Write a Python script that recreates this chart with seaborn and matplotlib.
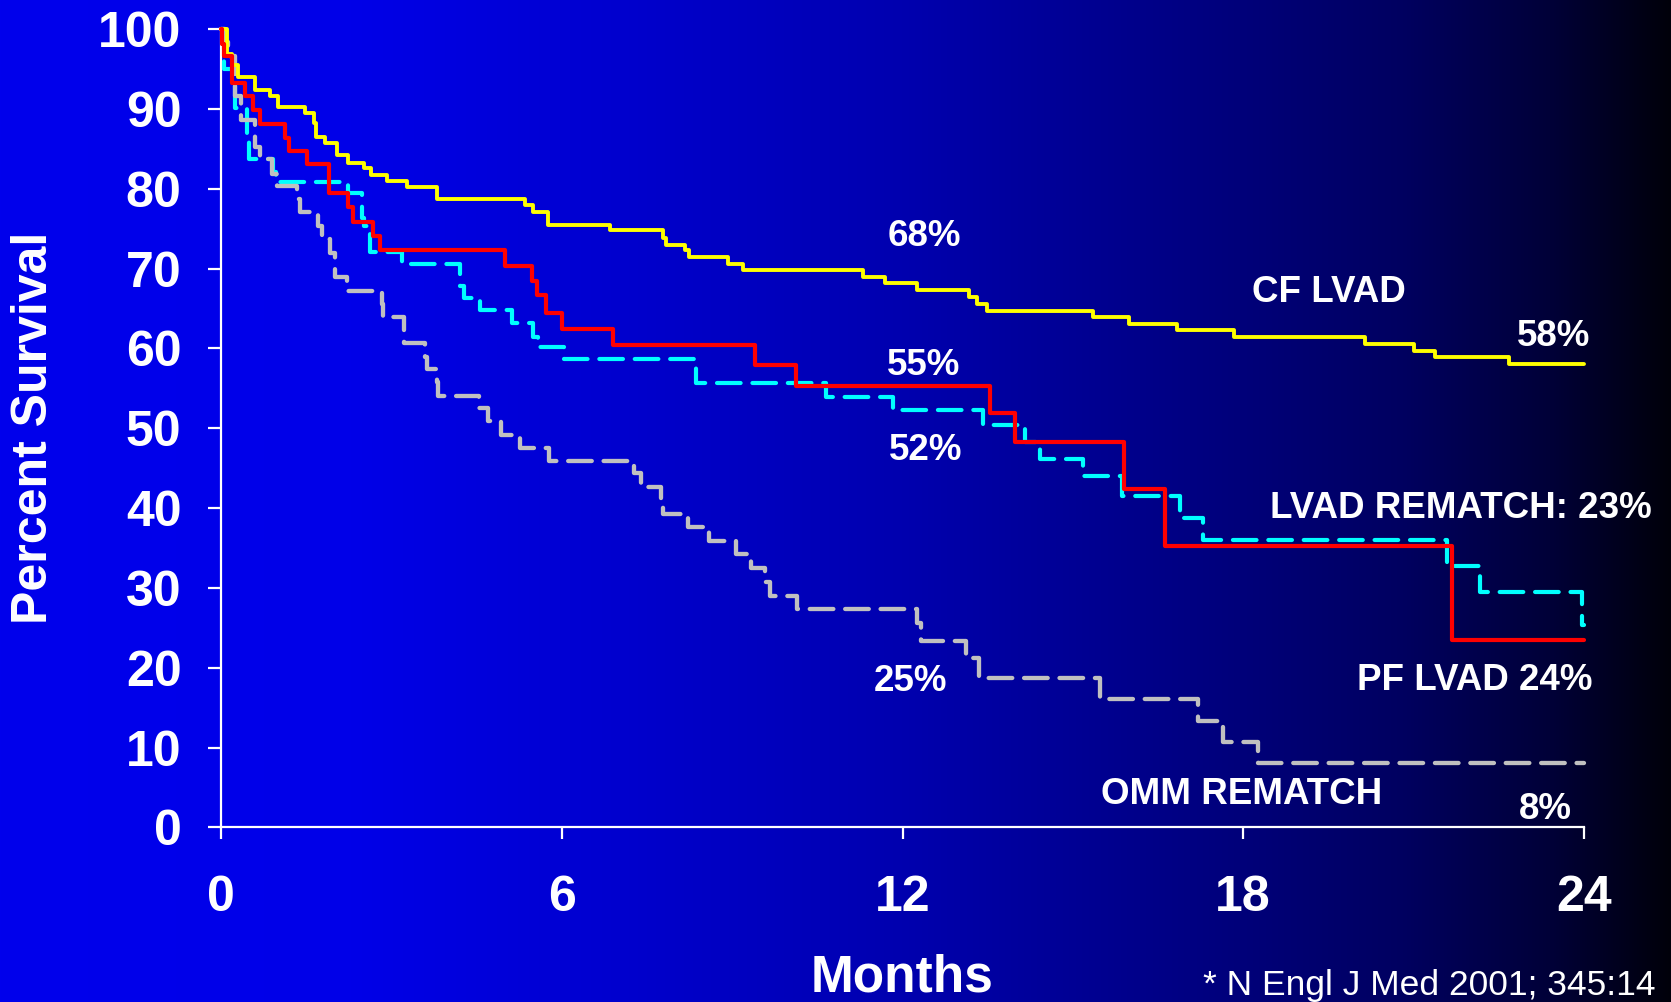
import numpy as np
import pandas as pd
import matplotlib
matplotlib.use("Agg")
import matplotlib.pyplot as plt
import seaborn as sns

# ---------------- data ----------------
cf_t = [0, 0.10, 0.19, 0.30, 0.60, 0.86, 1.01, 1.48, 1.63, 1.68, 1.83, 2.04, 2.24, 2.51, 2.65,
        2.92, 3.27, 3.80, 5.35, 5.50, 5.76, 6.85, 7.78, 7.84, 8.17, 8.24, 8.92, 9.20, 11.31, 11.70,
        12.26, 13.17, 13.31, 13.49, 15.36, 15.99, 16.84, 17.83, 20.14, 21.01, 21.38, 22.68, 24.0]
cf_s = [100, 96.9, 95.5, 94.0, 92.4, 91.6, 90.3, 89.5, 88.2, 86.5, 85.7, 84.3, 83.3, 82.6, 81.8,
        81.0, 80.3, 78.7, 78.0, 77.1, 75.5, 74.8, 73.9, 73.0, 72.3, 71.5, 70.6, 69.8, 69.0, 68.2,
        67.3, 66.5, 65.6, 64.7, 63.9, 63.1, 62.3, 61.5, 60.6, 59.7, 58.9, 58.1, 58.1]

pf_t = [0, 0.02, 0.05, 0.19, 0.42, 0.56, 0.69, 1.13, 1.19, 1.52, 1.91, 2.24, 2.33, 2.68, 2.80,
        5.00, 5.47, 5.56, 5.72, 6.00, 6.91, 9.40, 10.13, 13.54, 13.98, 15.90, 16.63, 21.67, 24.0]
pf_s = [100, 98.2, 96.6, 93.3, 91.6, 89.9, 88.1, 86.4, 84.8, 83.1, 79.5, 77.7, 75.9, 74.1, 72.3,
        70.3, 68.4, 66.7, 64.4, 62.4, 60.4, 57.9, 55.3, 51.9, 48.3, 42.4, 35.3, 23.5, 23.5]

lvad_t = [0, 0.05, 0.25, 0.45, 0.50, 0.92, 0.97, 2.24, 2.48, 2.51, 2.62, 3.18, 4.21, 4.27, 4.56,
          5.12, 5.50, 5.59, 6.04, 8.37, 10.65, 11.83, 13.41, 14.15, 14.42, 15.18, 15.87, 16.88,
          17.29, 21.58, 22.17, 23.97, 24.0]
lvad_s = [100, 95.0, 90.1, 86.5, 83.8, 82.1, 80.9, 79.5, 76.3, 75.3, 72.1, 70.6, 67.8, 66.3, 64.8,
          63.2, 61.5, 60.2, 58.7, 55.7, 53.9, 52.3, 50.4, 48.3, 46.2, 44.0, 41.5, 38.8,
          36.0, 32.7, 29.5, 25.3, 25.3]

omm_t = [0, 0.07, 0.13, 0.25, 0.36, 0.60, 0.69, 0.89, 0.98, 1.33, 1.39, 1.71, 1.77, 1.92, 2.01,
         2.21, 2.83, 2.86, 3.22, 3.59, 3.63, 3.80, 3.82, 4.54, 4.70, 4.93, 5.26, 5.78, 7.28, 7.39,
         7.75, 7.78, 8.22, 8.59, 9.07, 9.34, 9.58, 9.66, 10.15, 12.26, 12.32, 13.11, 13.35, 15.47,
         17.20, 17.64, 18.26, 24.0]
omm_s = [100, 98.4, 96.7, 91.6, 88.6, 85.3, 83.8, 81.9, 80.4, 78.7, 77.1, 75.4, 73.7, 72.0, 69.0,
         67.2, 65.6, 64.0, 60.7, 58.9, 57.4, 55.8, 54.1, 52.6, 50.9, 49.1, 47.5, 45.9, 44.4, 42.6,
         41.0, 39.3, 37.6, 35.9, 34.3, 32.5, 30.8, 29.0, 27.4, 25.6, 23.4, 21.2, 18.7, 16.1,
         13.3, 10.7, 8.0, 8.0]

x_ticks = [0, 6, 12, 18, 24]
y_ticks = [0, 10, 20, 30, 40, 50, 60, 70, 80, 90, 100]

# ---------------- styling ----------------
sns.set_style("ticks")
plt.rcParams["font.family"] = ["Liberation Sans", "DejaVu Sans"]

W, H = 1671, 1002
fig = plt.figure(figsize=(W / 100, H / 100), dpi=100)

# gradient background (bright blue -> black, left to right)
xs = np.linspace(0, 1, W)
blue = np.interp(xs, [0.0, 0.21, 0.36, 0.54, 0.69, 0.84, 0.93, 1.0],
                 [236, 232, 208, 175, 136, 96, 55, 10]) / 255.0
grad = np.zeros((1, W, 3))
grad[0, :, 2] = blue
bg = fig.add_axes([0, 0, 1, 1], zorder=-10)
bg.imshow(grad, aspect="auto", extent=[0, 1, 0, 1])
bg.axis("off")

left, right = 221 / W, 1584 / W
bottom, top = (H - 827.3) / H, (H - 29.3) / H
ax = fig.add_axes([left, bottom, right - left, top - bottom])
ax.patch.set_alpha(0)

def draw(t, s, color, lw, dashed, z):
    df = pd.DataFrame({"Months": t, "Survival": s})
    sns.lineplot(data=df, x="Months", y="Survival", ax=ax, color=color, linewidth=lw,
                 drawstyle="steps-post", estimator=None, sort=False, zorder=z)
    ln = ax.lines[-1]
    ln.set_clip_on(False)
    if dashed:
        ln.set_dashes((17 / lw, 8.5 / lw))
        ln.set_dash_capstyle("round")
    return ln

draw(lvad_t, lvad_s, "#00FFFF", 3.0, True, 3)
draw(omm_t, omm_s, "#C0C0C0", 3.1, True, 4)
draw(cf_t, cf_s, "#FFFF00", 2.8, False, 5)
draw(pf_t, pf_s, "#FF0000", 3.0, False, 6)

ax.set_xlim(0, 24)
ax.set_ylim(0, 100)
ax.set_xticks(x_ticks)
ax.set_yticks(y_ticks)
ax.set_xticklabels([str(v) for v in x_ticks])
ax.set_yticklabels([str(v) for v in y_ticks])
for sp in ["top", "right"]:
    ax.spines[sp].set_visible(False)
for sp in ["left", "bottom"]:
    ax.spines[sp].set_color("white")
    ax.spines[sp].set_linewidth(1.6)
ax.tick_params(axis="y", direction="out", length=9.5, width=1.6, color="white",
               labelcolor="white", labelsize=36, pad=19)
ax.tick_params(axis="x", direction="out", length=8.5, width=1.6, color="white",
               labelcolor="white", labelsize=36, pad=26)
for lab in ax.get_xticklabels() + ax.get_yticklabels():
    lab.set_fontweight("bold")
ax.set_xlabel("")
ax.set_ylabel("")

# axis titles
fig.text(34 / W, 1 - 428 / H, "Percent Survival", rotation=90, color="white",
         fontsize=36, fontweight="bold", ha="center", va="center")
fig.text(902 / W, (H - 991) / H, "Months", color="white", fontsize=37,
         fontweight="bold", ha="center", va="baseline")
fig.text(1203 / W, (H - 995) / H, "* N Engl J Med 2001; 345:14", color="white",
         fontsize=25.5, ha="left", va="baseline")

# annotations
notes = [
    ("68%", 12.38, 72.9), ("CF LVAD", 19.51, 65.8), ("58%", 23.46, 60.3),
    ("55%", 12.38, 56.7), ("52%", 12.40, 46.0), ("LVAD REMATCH: 23%", 21.83, 38.8),
    ("PF LVAD 24%", 22.08, 17.2), ("25%", 12.14, 17.1), ("OMM REMATCH", 17.98, 2.9),
    ("8%", 23.32, 1.0),
]
for txt, x, y in notes:
    ax.text(x, y, txt, color="white", fontsize=26.5, fontweight="bold",
            ha="center", va="baseline", clip_on=False, zorder=10)

fig.savefig("out.png", dpi=100)
